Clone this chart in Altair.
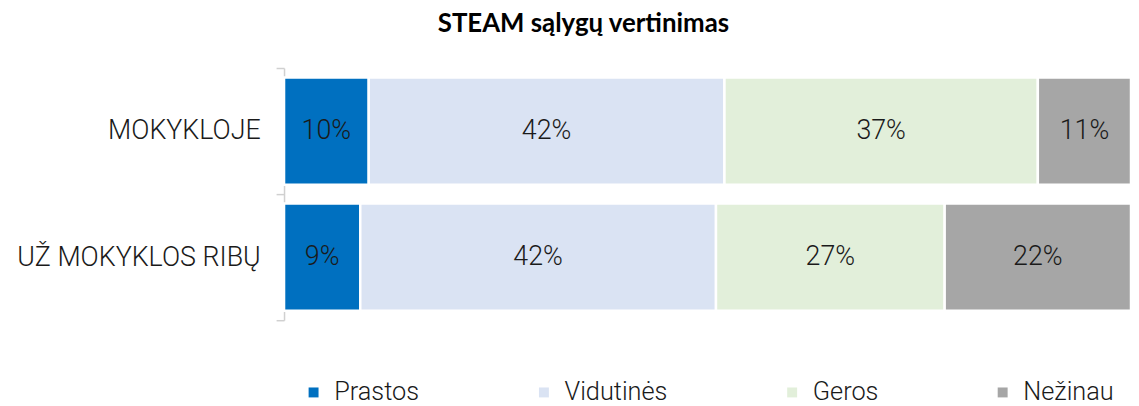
import altair as alt
import pandas as pd

title_text = "STEAM sąlygų vertinimas"
rows = ["MOKYKLOJE", "UŽ MOKYKLOS RIBŲ"]
categories = ["Prastos", "Vidutinės", "Geros", "Nežinau"]
colors = ["#0070C0", "#DAE3F3", "#E2EFDA", "#A6A6A6"]
mokykloje = [10, 42, 37, 11]
uz_ribu = [9, 42, 27, 22]

records = []
for r, vals in zip(rows, [mokykloje, uz_ribu]):
    for i, (c, v) in enumerate(zip(categories, vals)):
        records.append({"row": r, "cat": c, "value": v, "order": i, "label": f"{v}%"})
df = pd.DataFrame(records)

FONT = "Roboto"

base = alt.Chart(df).transform_stack(
    stack="value", groupby=["row"], sort=[{"field": "order", "order": "ascending"}], as_=["x0", "x1"]
).transform_calculate(mid="(datum.x0 + datum.x1) / 2")

y_enc = alt.Y(
    "row:N",
    sort=rows,
    title=None,
    scale=alt.Scale(paddingInner=0, paddingOuter=0),
    axis=alt.Axis(
        domain=True,
        domainColor="#D0D0D0",
        domainWidth=1.5,
        ticks=True,
        tickColor="#D0D0D0",
        tickWidth=1.5,
        tickSize=8,
        tickBand="extent",
        labelFont=FONT,
        labelFontWeight=300,
        labelFontSize=27,
        labelColor="#1a1a1a",
        labelPadding=16,
        labelLimit=400,
    ),
)

bars = base.mark_bar(stroke="white", strokeWidth=2.5, height=alt.RelativeBandSize(band=0.85)).encode(
    x=alt.X("x0:Q", scale=alt.Scale(domain=[0, 100], nice=False), axis=None),
    x2="x1:Q",
    y=y_enc,
    color=alt.Color(
        "cat:N",
        sort=categories,
        scale=alt.Scale(domain=categories, range=colors),
        legend=alt.Legend(
            title=None,
            orient="none",
            direction="horizontal",
            legendX=17,
            legendY=314,
            padding=0,
            columns=4,
            gridAlign="none",
            columnPadding=112,
            symbolType="square",
            symbolSize=100,
            symbolStrokeWidth=0,
            labelFont=FONT,
            labelFontWeight=300,
            labelFontSize=25.5,
            labelColor="#1a1a1a",
            labelOffset=8,
            labelLimit=300,
        ),
    ),
    order=alt.Order("order:Q"),
)

labels = base.mark_text(font=FONT, fontWeight=300, fontSize=27, color="#1a1a1a", baseline="middle").encode(
    x=alt.X("mid:Q", scale=alt.Scale(domain=[0, 100], nice=False), axis=None),
    y=alt.Y("row:N", sort=rows),
    text="label:N",
)

chart = (
    alt.layer(bars, labels)
    .properties(
        width=853,
        height=254,
        padding={"left": 278, "top": 59, "right": 0, "bottom": 90},
        autosize=alt.AutoSizeParams(type="none"),
        title=alt.Title(
            title_text,
            font="Lato",
            fontWeight="bold",
            fontSize=26,
            color="#000000",
            anchor="middle",
            frame="group",
            dx=-125,
            offset=17,
        ),
    )
    .configure_view(stroke=None)
)

chart.save("out.html", embed_options={"renderer": "svg", "actions": False})
